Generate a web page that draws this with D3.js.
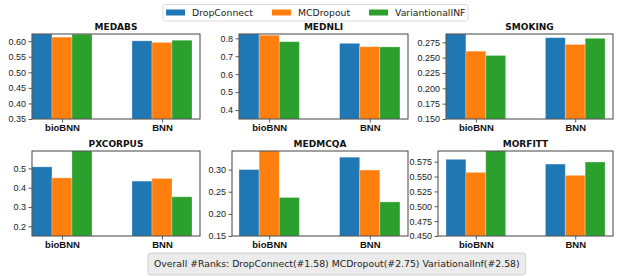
<!DOCTYPE html>
<html>
<head>
<meta charset="utf-8">
<script src="https://cdn.jsdelivr.net/npm/d3@7"></script>
<style>
  body { margin: 0; background: #fff; }
  svg { font-family: "DejaVu Sans", sans-serif; }
</style>
</head>
<body>
<svg id="chart" width="620" height="276"></svg>
<script>
// dati
const categories = ['bioBNN', 'BNN'];
const methods = ['DropConnect', 'MCDropout', 'VariantionalINF'];
const datasets = ['MEDABS', 'MEDNLI', 'SMOKING', 'PXCORPUS', 'MEDMCQA', 'MORFITT'];

// un valore per categoria (bioBNN, BNN) per ogni dataset
const dropConnect = [[0.623, 0.601], [0.824, 0.772], [0.2885, 0.2825], [0.508, 0.434], [0.300, 0.328], [0.579, 0.571]];
const mcDropout   = [[0.613, 0.596], [0.817, 0.753], [0.2605, 0.2715], [0.451, 0.448], [0.342, 0.299], [0.557, 0.552]];
const variational = [[0.622, 0.603], [0.781, 0.752], [0.2535, 0.2815], [0.590, 0.353], [0.237, 0.227], [0.593, 0.5745]];

const yLow = [0.35, 0.35, 0.15, 0.15, 0.15, 0.45];
const yTicks = [
  [0.35, 0.40, 0.45, 0.50, 0.55, 0.60],
  [0.4, 0.5, 0.6, 0.7, 0.8],
  [0.150, 0.175, 0.200, 0.225, 0.250, 0.275],
  [0.2, 0.3, 0.4, 0.5],
  [0.15, 0.20, 0.25, 0.30],
  [0.450, 0.475, 0.500, 0.525, 0.550, 0.575]
];
const yFormats = ['.2f', '.1f', '.3f', '.1f', '.2f', '.3f'];
const ranksText = 'Overall #Ranks: DropConnect(#1.58) MCDropout(#2.75) VariationalInf(#2.58)';

const colors = ['#1f77b4', '#ff7f0e', '#2ca02c'];
const series = [dropConnect, mcDropout, variational];

// layout dei pannelli
const rowTop = [34, 151];
const rowHeight = 85;
const frameLeft = [32, 239, 446, 32, 232, 438];
const frameRight = [200, 408, 613, 200, 408, 613];
const colBarLeft = [32, 239, 446]; // inizio range x (per colonna)
const barW = 0.2;

const svg = d3.select('#chart');
const defs = svg.append('defs');

datasets.forEach((name, k) => {
  const row = Math.floor(k / 3);
  const col = k % 3;
  const top = rowTop[row];
  const bottom = top + rowHeight;
  const left = frameLeft[k];
  const right = frameRight[k];

  const x = d3.scaleLinear()
    .domain([-0.1, 1.58])
    .range([colBarLeft[col], frameRight[col]]);

  const yMax = d3.max(series, s => d3.max(s[k]));
  const y = d3.scaleLinear()
    .domain([yLow[k], yMax])
    .range([bottom, top]);

  const g = svg.append('g');

  defs.append('clipPath').attr('id', 'clip' + k)
    .append('rect')
    .attr('x', left).attr('y', top)
    .attr('width', right - left).attr('height', rowHeight);

  const bars = g.append('g').attr('clip-path', `url(#clip${k})`);
  series.forEach((s, j) => {
    bars.selectAll('.bar' + j)
      .data(s[k])
      .enter()
      .append('rect')
      .attr('x', (d, i) => x(i + j * barW - barW / 2))
      .attr('width', x(barW) - x(0))
      .attr('y', d => y(d))
      .attr('height', d => y(yLow[k]) - y(d))
      .style('fill', colors[j])
      .style('stroke', '#ffffff')
      .style('stroke-opacity', 0.35)
      .style('stroke-width', 0.8);
  });

  // asse y
  const yAxis = d3.axisLeft(y)
    .tickValues(yTicks[k])
    .tickFormat(d3.format(yFormats[k]))
    .tickSize(3.5)
    .tickPadding(2.5);
  const ya = g.append('g')
    .attr('transform', `translate(${left},0)`)
    .call(yAxis);
  ya.select('.domain').remove();
  ya.selectAll('text').style('font-size', '9px').style('fill', '#222');
  ya.selectAll('line').style('stroke', '#333').style('stroke-width', 0.8);

  // asse x
  const xAxis = d3.axisBottom(x)
    .tickValues([0.2, 1.2])
    .tickFormat((d, i) => categories[i])
    .tickSize(3.5)
    .tickPadding(2);
  const xa = g.append('g')
    .attr('transform', `translate(0,${bottom})`)
    .call(xAxis);
  xa.select('.domain').remove();
  xa.selectAll('text').style('font-size', '9.5px').style('font-weight', 'bold').style('fill', '#111');
  xa.selectAll('line').style('stroke', '#333').style('stroke-width', 0.8);

  // cornice
  g.append('rect')
    .attr('x', left).attr('y', top)
    .attr('width', right - left).attr('height', rowHeight)
    .style('fill', 'none')
    .style('stroke', '#444')
    .style('stroke-width', 1);

  // titolo
  g.append('text')
    .attr('x', (left + right) / 2)
    .attr('y', top - 4)
    .attr('text-anchor', 'middle')
    .style('font-size', '9px')
    .style('font-weight', 'bold')
    .style('fill', '#111')
    .text(name);
});

// legenda
const legend = svg.append('g');
legend.append('rect')
  .attr('x', 163).attr('y', 4.5)
  .attr('width', 305).attr('height', 16.5)
  .attr('rx', 2.5)
  .style('fill', '#fff')
  .style('stroke', '#d0d0d0')
  .style('stroke-width', 0.8);
const legendX = [166, 272, 369];
methods.forEach((m, j) => {
  legend.append('rect')
    .attr('x', legendX[j]).attr('y', 9.5)
    .attr('width', 19).attr('height', 6)
    .style('fill', colors[j]);
  legend.append('text')
    .attr('x', legendX[j] + 26).attr('y', 16)
    .style('font-size', '9.3px')
    .style('fill', '#222')
    .text(m);
});

// riquadro dei rank
const info = svg.append('g');
const infoText = info.append('text')
  .attr('x', 154).attr('y', 267)
  .style('font-size', '9.3px')
  .style('fill', '#222')
  .text(ranksText);
const tw = infoText.node().getComputedTextLength();
info.insert('rect', 'text')
  .attr('x', 148).attr('y', 253)
  .attr('width', tw + 12).attr('height', 22)
  .attr('rx', 3)
  .style('fill', '#ebebeb')
  .style('stroke', '#c8c8c8')
  .style('stroke-width', 0.8);
</script>
</body>
</html>
